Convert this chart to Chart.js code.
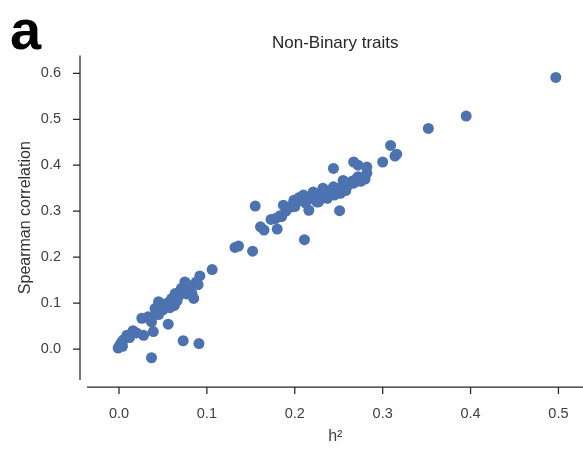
<!DOCTYPE html>
<html>
<head>
<meta charset="utf-8">
<script src="https://cdn.jsdelivr.net/npm/chart.js@4"></script>
<style>
  html, body { margin: 0; padding: 0; background: #fff; }
  #wrap { position: relative; width: 583px; height: 450px; overflow: hidden; }
  #panel { position: absolute; left: 10px; top: -3px; line-height: 56px; font: bold 56px "Liberation Sans", Arial, sans-serif; color: #000; }
</style>
</head>
<body>
<div id="wrap">
  <canvas id="scatterChart" width="589" height="450"></canvas>
  <div id="panel">a</div>
</div>
<script>
// h2 values (x) and Spearman correlation (y)
const h2 = [
    -0.001, 0.001, 0.005, 0.009, 0.016, 0.028, 0.039, 0.026, 0.037, 0.033,
    0.041, 0.052, 0.045, 0.056, 0.060, 0.064, 0.071, 0.075, 0.083, 0.085,
    0.088, 0.092, 0.106, 0.073, 0.091, 0.037, 0.003, 0.012, 0.020, 0.045,
    0.050, 0.055, 0.063, 0.068, 0.072, 0.078, 0.080, 0.090, 0.066, 0.058,
    0.077, 0.004, 0.035, 0.043,
    0.132, 0.136, 0.152, 0.155, 0.161, 0.165, 0.180, 0.173, 0.178, 0.185,
    0.187, 0.195, 0.199, 0.210, 0.211, 0.216, 0.221, 0.227, 0.197, 0.202,
    0.221, 0.225, 0.232, 0.237, 0.244, 0.252, 0.251, 0.255, 0.267, 0.244,
    0.276, 0.282, 0.267, 0.272, 0.282, 0.300, 0.309, 0.316, 0.314, 0.352,
    0.395, 0.497,
    0.205, 0.215, 0.230, 0.235, 0.240, 0.245, 0.250, 0.260, 0.265, 0.270,
    0.275, 0.280, 0.190, 0.183, 0.200, 0.212, 0.228, 0.258, 0.262, 0.272
];
const spearman = [
    0.002, 0.009, 0.020, 0.030, 0.040, 0.030, 0.038, 0.067, 0.059, 0.070,
    0.088, 0.092, 0.103, 0.054, 0.110, 0.121, 0.132, 0.146, 0.121, 0.110,
    0.146, 0.159, 0.173, 0.018, 0.012, -0.019, 0.015, 0.025, 0.035, 0.075,
    0.085, 0.100, 0.095, 0.115, 0.125, 0.140, 0.130, 0.140, 0.105, 0.090,
    0.120, 0.006, 0.065, 0.080,
    0.221, 0.224, 0.213, 0.311, 0.266, 0.259, 0.261, 0.282, 0.284, 0.288,
    0.313, 0.309, 0.324, 0.335, 0.238, 0.302, 0.338, 0.320, 0.313, 0.320,
    0.342, 0.320, 0.350, 0.328, 0.353, 0.339, 0.301, 0.367, 0.361, 0.393,
    0.372, 0.383, 0.407, 0.400, 0.396, 0.407, 0.443, 0.424, 0.420, 0.480,
    0.507, 0.591,
    0.330, 0.325, 0.335, 0.340, 0.345, 0.335, 0.350, 0.355, 0.365, 0.370,
    0.365, 0.370, 0.300, 0.290, 0.310, 0.318, 0.330, 0.345, 0.360, 0.375
];
const xTicks = [0.0, 0.1, 0.2, 0.3, 0.4, 0.5];
const yTicks = [0.0, 0.1, 0.2, 0.3, 0.4, 0.5, 0.6];

const points = h2.map((x, i) => ({ x: x, y: spearman[i] }));

// seaborn-style offset spines with outward ticks
const offsetSpines = {
    id: 'offsetSpines',
    afterDraw(chart) {
        const { ctx, chartArea, scales } = chart;
        const gap = 7, tick = 7;
        ctx.save();
        ctx.strokeStyle = '#262626';
        ctx.lineWidth = 1.25;
        ctx.beginPath();
        const sx = chartArea.left - gap;
        ctx.moveTo(sx, chartArea.top);
        ctx.lineTo(sx, chartArea.bottom);
        scales.y.ticks.forEach(t => {
            const py = scales.y.getPixelForValue(t.value);
            ctx.moveTo(sx - tick, py);
            ctx.lineTo(sx, py);
        });
        const sy = chartArea.bottom + gap;
        ctx.moveTo(chartArea.left, sy);
        ctx.lineTo(chartArea.right, sy);
        scales.x.ticks.forEach(t => {
            const px = scales.x.getPixelForValue(t.value);
            ctx.moveTo(px, sy);
            ctx.lineTo(px, sy + tick);
        });
        ctx.stroke();
        ctx.restore();
    }
};

const ctx = document.getElementById('scatterChart').getContext('2d');
new Chart(ctx, {
    type: 'scatter',
    data: {
        datasets: [{
            label: 'Non-Binary traits',
            data: points,
            backgroundColor: '#4c72b0',
            borderWidth: 0,
            pointRadius: 5.5,
            pointHoverRadius: 5.5
        }]
    },
    options: {
        responsive: false,
        animation: false,
        layout: { padding: 0 },
        font: { family: '"Liberation Sans", Arial, sans-serif' },
        scales: {
            x: {
                type: 'linear',
                min: -0.0364,
                max: 0.5285,
                afterBuildTicks: scale => { scale.ticks = xTicks.map(v => ({ value: v })); },
                afterFit: scale => {
                    scale.height = 70;
                    scale.paddingLeft = 0;
                    scale.paddingRight = 0;
                },
                grid: { display: false, drawTicks: false },
                border: { display: false },
                ticks: {
                    padding: 25,
                    color: '#404040',
                    font: { size: 14.5 },
                    callback: v => v.toFixed(1)
                },
                title: {
                    display: true,
                    text: 'h²',
                    color: '#404040',
                    font: { size: 16 },
                    padding: { top: 0, bottom: 4 }
                }
            },
            y: {
                type: 'linear',
                min: -0.0674,
                max: 0.639,
                afterBuildTicks: scale => { scale.ticks = yTicks.map(v => ({ value: v })); },
                afterFit: scale => {
                    scale.width = 87;
                    scale.paddingTop = 0;
                    scale.paddingBottom = 0;
                },
                grid: { display: false, drawTicks: false },
                border: { display: false },
                ticks: {
                    padding: 26,
                    color: '#404040',
                    font: { size: 14.5 },
                    callback: v => v.toFixed(1)
                },
                title: {
                    display: true,
                    text: 'Spearman correlation',
                    color: '#333333',
                    font: { size: 16 },
                    padding: { top: 16, bottom: 0 }
                }
            }
        },
        plugins: {
            legend: { display: false },
            tooltip: { enabled: false },
            title: {
                display: true,
                text: 'Non-Binary traits',
                fullSize: false,
                color: '#262626',
                font: { size: 17, weight: 'normal' },
                padding: { top: 33, bottom: 2 }
            }
        }
    },
    plugins: [offsetSpines]
});
</script>
</body>
</html>
